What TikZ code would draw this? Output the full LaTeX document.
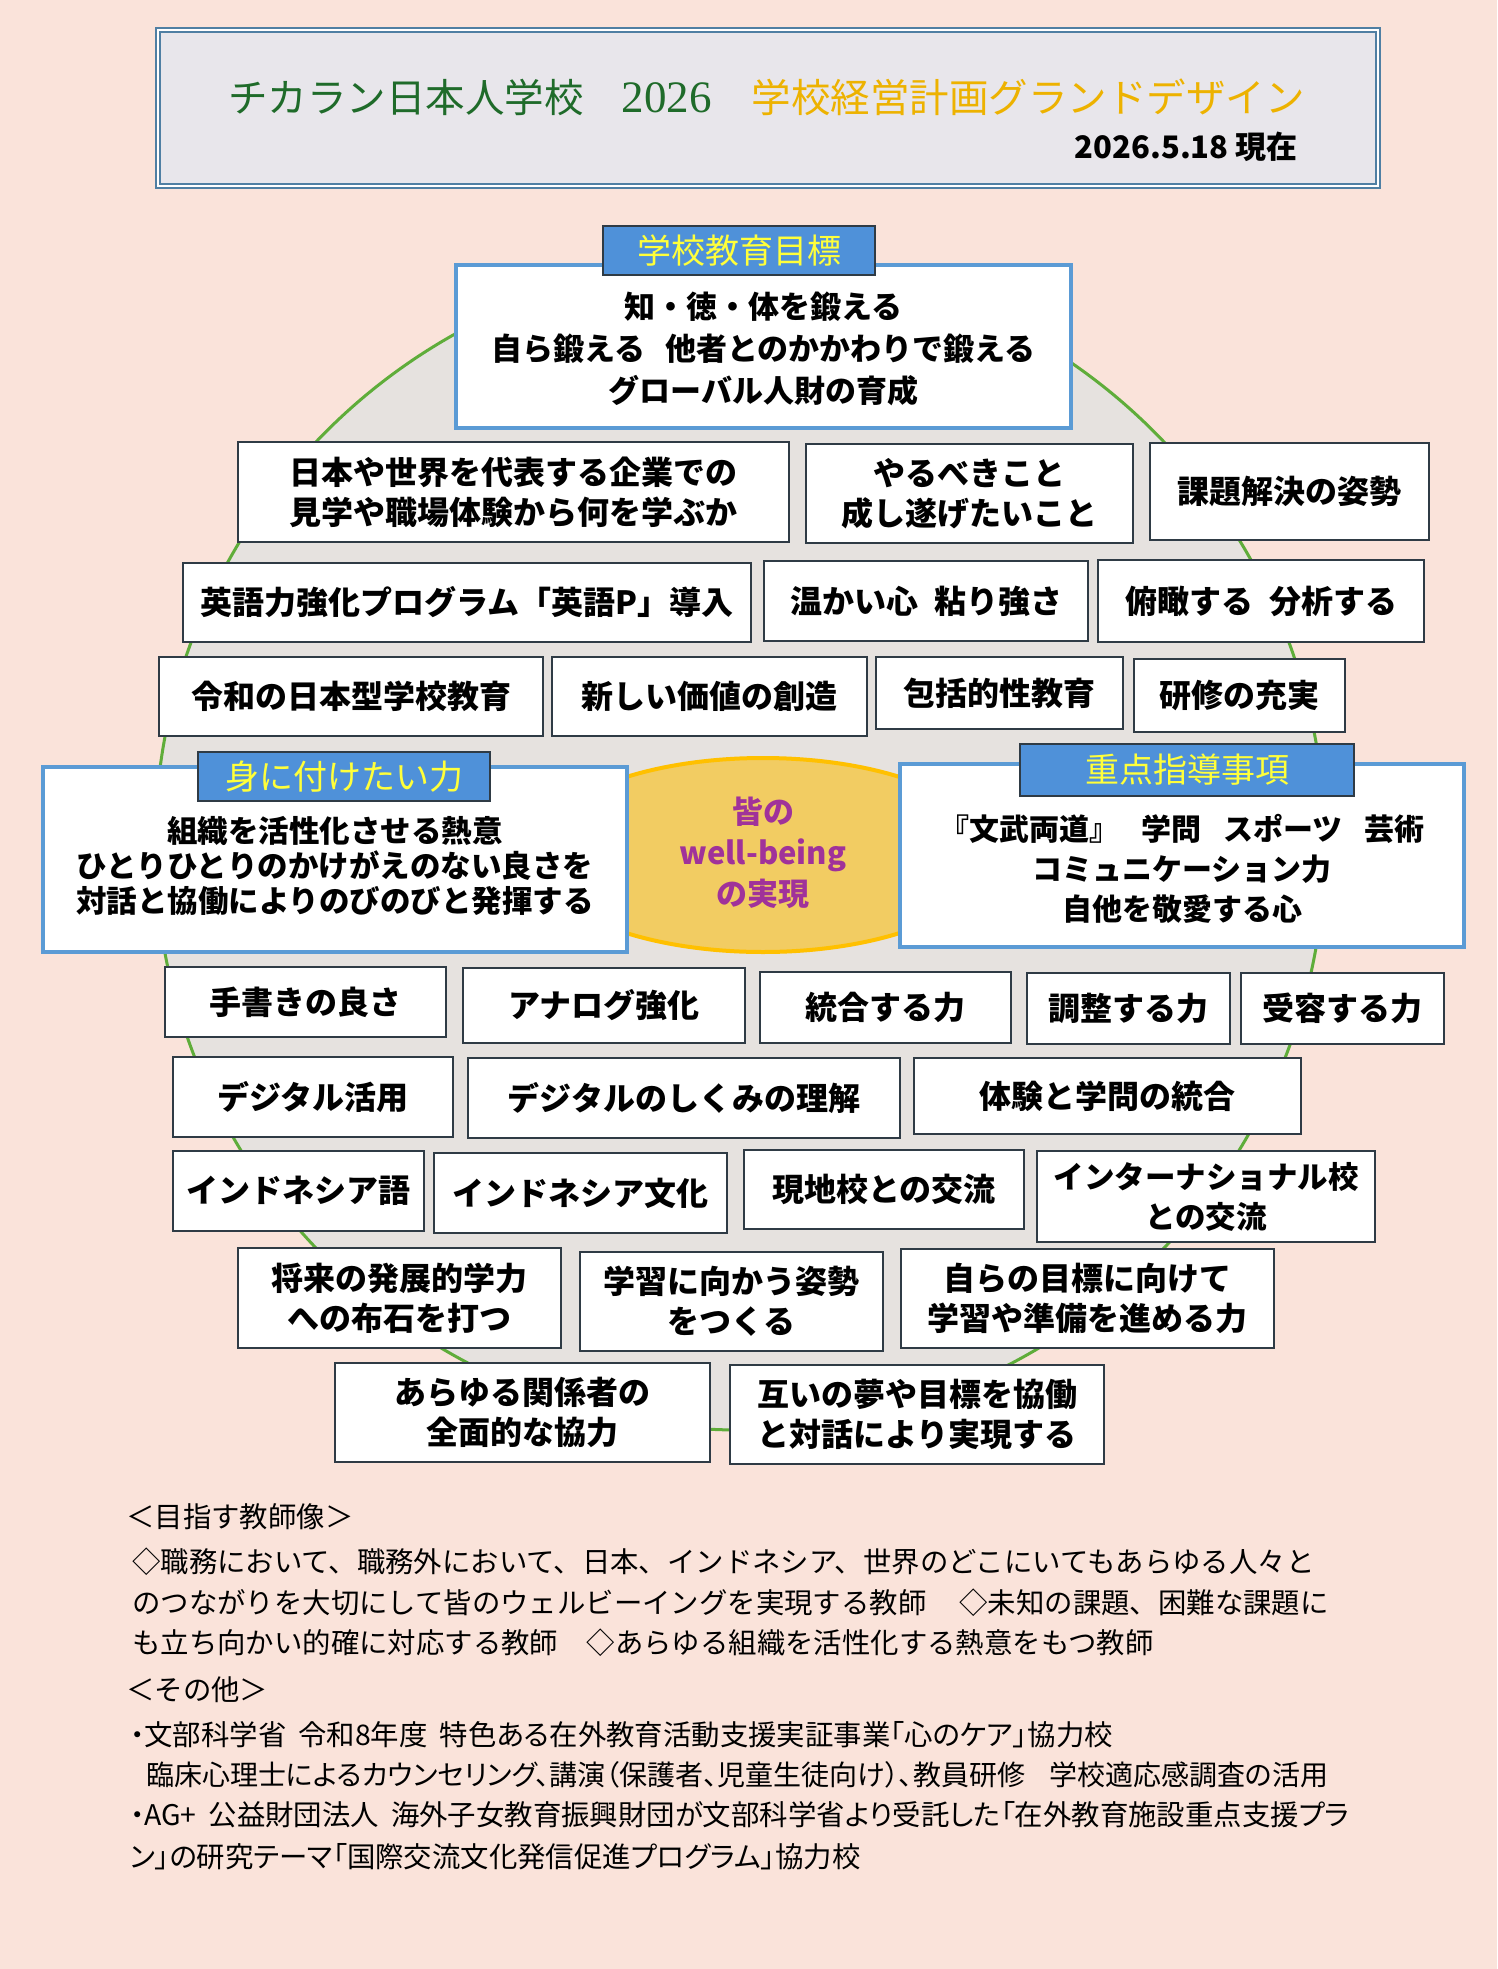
\documentclass[tikz,border=0pt]{standalone}
\usepackage{fontspec}
\usetikzlibrary{shapes.geometric}
\newfontfamily\jp{Noto Sans CJK JP}
\newfontfamily\jpp{Noto Sans CJK JP}[RawFeature=+palt]
\newfontfamily\serifnum{Liberation Serif}
\definecolor{bg}{HTML}{FAE3DA}
\definecolor{circfill}{HTML}{E6E2DF}
\definecolor{circline}{HTML}{5FAD3A}
\definecolor{boxline}{HTML}{2F3B45}
\definecolor{mainline}{HTML}{5B9BD5}
\definecolor{labfill}{HTML}{4F91D9}
\definecolor{labtext}{HTML}{FFFF3A}
\definecolor{titlefill}{HTML}{E8E6EB}
\definecolor{titleline}{HTML}{4F7FA3}
\definecolor{tgreen}{HTML}{1F6B2A}
\definecolor{tgold}{HTML}{EDB200}
\definecolor{wbfill}{HTML}{F2CC62}
\definecolor{wbline}{HTML}{FFC000}
\definecolor{wbtext}{HTML}{A0329A}
\begin{document}
\begin{tikzpicture}[x=1pt,y=-1pt,
  box/.style={draw=boxline,fill=white,line width=1.3pt,inner sep=0pt,align=center,
    font=\jp\bfseries\fontsize{32}{40}\selectfont},
  mainbox/.style={draw=mainline,fill=white,line width=4pt,inner sep=0pt},
  maintext/.style={align=center,inner sep=0pt,font=\jp\bfseries\fontsize{30}{40}\selectfont},
  lab/.style={draw=boxline,fill=labfill,line width=1.2pt,inner sep=0pt,text=labtext,
    font=\jp\fontsize{34}{40}\selectfont},
  btxt/.style={anchor=west,inner sep=0pt,font=\jp\fontsize{28.4}{34}\selectfont},
  ptxt/.style={anchor=west,inner sep=0pt,font=\jpp\fontsize{28.4}{34}\selectfont}]
% background
\fill[bg] (0,0) rectangle (1497,1969);
\useasboundingbox (0,0) rectangle (1497,1969);
% title
\node[draw=titleline,double=white,double distance=2pt,line width=1.6pt,fill=titlefill,
  minimum width=1220pt,minimum height=156pt,inner sep=0pt] (title) at (768,108) {};
\node[anchor=west,inner sep=0pt,font=\jp\fontsize{39.5}{44}\selectfont] (ttext) at (228,97)
  {{\color{tgreen}チカラン日本人学校\hspace{38pt}{\serifnum\fontsize{45}{50}\selectfont 2026}}\hspace{40pt}{\color{tgold}学校経営計画グランドデザイン}};
\node[anchor=east,inner sep=0pt,font=\jp\bfseries\fontsize{31}{36}\selectfont] (date) at (1298,147) {2026.5.18 現在};
% circle
\fill[circfill] (740,845) circle[radius=585pt];
\draw[circline,line width=3pt] (740,845) circle[radius=585pt];
% row 1
\node[box,minimum width=551pt,minimum height=100pt] (r1a) at (513.5,492) {日本や世界を代表する企業での\\見学や職場体験から何を学ぶか};
\node[box,minimum width=327pt,minimum height=99pt] (r1b) at (969.5,493.5) {やるべきこと\\成し遂げたいこと};
\node[box,minimum width=279pt,minimum height=97pt] (r1c) at (1289.5,491.5) {課題解決の姿勢};
% row 2
\node[box,minimum width=568pt,minimum height=79pt] (r2a) at (467,602.5) {英語力強化プログラム「英語P」導入};
\node[box,minimum width=324pt,minimum height=80pt] (r2b) at (926,601) {温かい心\hspace{16pt}粘り強さ};
\node[box,minimum width=326pt,minimum height=82pt] (r2c) at (1261,601) {俯瞰する\hspace{16pt}分析する};
% row 3
\node[box,minimum width=384pt,minimum height=79pt] (r3a) at (351,696.5) {令和の日本型学校教育};
\node[box,minimum width=315pt,minimum height=79pt] (r3b) at (709.5,696.5) {新しい価値の創造};
\node[box,minimum width=247pt,minimum height=72pt] (r3c) at (999.5,693) {包括的性教育};
\node[box,minimum width=211pt,minimum height=73pt] (r3d) at (1239.5,695.5) {研修の充実};
% well-being ellipse
\node[ellipse,fill=wbfill,draw=wbline,line width=4pt,minimum width=460pt,minimum height=194pt,inner sep=0pt] (wb) at (763,855) {};
\node[align=center,inner sep=0pt,text=wbtext,font=\jp\bfseries\fontsize{31}{41}\selectfont] (wbt) at (763,853) {皆の\\well-being\\の実現};
% left main
\node[mainbox,minimum width=584pt,minimum height=185pt] (lbox) at (335,859.5) {};
\node[maintext,font=\jp\bfseries\fontsize{30.5}{35}\selectfont] (ltext) at (335,866) {組織を活性化させる熱意\\ひとりひとりのかけがえのない良さを\\対話と協働によりのびのびと発揮する};
\node[lab,minimum width=292pt,minimum height=49pt] (llab) at (344,776.5) {身に付けたい力};
% right main
\node[mainbox,minimum width=564pt,minimum height=183pt] (rbox) at (1182,855.5) {};
\node[maintext] (rtext) at (1182,869) {『文武両道』\hspace{22pt}学問\hspace{22pt}スポーツ\hspace{22pt}芸術\\コミュニケーション力\\自他を敬愛する心};
\node[lab,minimum width=334pt,minimum height=52pt] (rlab) at (1187,770) {重点指導事項};
% top main
\node[mainbox,minimum width=615pt,minimum height=163pt] (tbox) at (763.5,346.5) {};
\node[maintext,font=\jp\bfseries\fontsize{31}{42}\selectfont] (ttxt) at (763.5,349) {知・徳・体を鍛える\\自ら鍛える\hspace{20pt}他者とのかかわりで鍛える\\グローバル人財の育成};
\node[lab,minimum width=272pt,minimum height=49pt] (tlab) at (739,250.5) {学校教育目標};
% row A
\node[box,minimum width=281pt,minimum height=70pt] (a1) at (305.5,1002) {手書きの良さ};
\node[box,minimum width=282pt,minimum height=75pt] (a2) at (604,1005.5) {アナログ強化};
\node[box,minimum width=251pt,minimum height=71pt] (a3) at (885.5,1007.5) {統合する力};
\node[box,minimum width=203pt,minimum height=71pt] (a4) at (1128.5,1008.5) {調整する力};
\node[box,minimum width=203pt,minimum height=71pt] (a5) at (1342.5,1008.5) {受容する力};
% row B
\node[box,minimum width=280pt,minimum height=80pt] (b1) at (313,1097) {デジタル活用};
\node[box,minimum width=432pt,minimum height=80pt] (b2) at (684,1098) {デジタルのしくみの理解};
\node[box,minimum width=387pt,minimum height=76pt] (b3) at (1107.5,1096) {体験と学問の統合};
% row C
\node[box,minimum width=251pt,minimum height=80pt] (c1) at (298.5,1191) {インドネシア語};
\node[box,minimum width=293pt,minimum height=80pt] (c2) at (580.5,1193) {インドネシア文化};
\node[box,minimum width=280pt,minimum height=79pt] (c3) at (884,1189.5) {現地校との交流};
\node[box,minimum width=338pt,minimum height=91pt,font=\jp\bfseries\fontsize{30.5}{40}\selectfont] (c4) at (1206,1196.5) {インターナショナル校\\との交流};
% row D
\node[box,minimum width=323pt,minimum height=100pt] (d1) at (399.5,1298) {将来の発展的学力\\への布石を打つ};
\node[box,minimum width=303pt,minimum height=99pt] (d2) at (731.5,1301.5) {学習に向かう姿勢\\をつくる};
\node[box,minimum width=373pt,minimum height=99pt] (d3) at (1087.5,1298.5) {自らの目標に向けて\\学習や準備を進める力};
% row E
\node[box,minimum width=375pt,minimum height=99pt] (e1) at (522.5,1412.5) {あらゆる関係者の\\全面的な協力};
\node[box,minimum width=374pt,minimum height=99pt] (e2) at (917,1414.5) {互いの夢や目標を協働\\と対話により実現する};
% bottom text
\node[btxt] (t1) at (126,1517) {＜目指す教師像＞};
\node[btxt] (t2) at (132,1562) {◇職務において、職務外において、日本、インドネシア、世界のどこにいてもあらゆる人々と};
\node[btxt] (t3) at (132,1603) {のつながりを大切にして皆のウェルビーイングを実現する教師\hspace{33pt}◇未知の課題、困難な課題に};
\node[btxt] (t4) at (132,1643) {も立ち向かい的確に対応する教師　◇あらゆる組織を活性化する熱意をもつ教師};
\node[btxt] (t5) at (126,1690) {＜その他＞};
\node[ptxt] (t6) at (130,1735) {・文部科学省\hspace{12pt}令和8年度\hspace{12pt}特色ある在外教育活動支援実証事業「心のケア」協力校};
\node[ptxt,font=\jpp\fontsize{28}{34}\selectfont] (t7) at (146,1775) {臨床心理士によるカウンセリング、講演（保護者、児童生徒向け）、教員研修\hspace{24pt}学校適応感調査の活用};
\node[ptxt] (t8) at (130,1815) {・AG+\hspace{12pt}公益財団法人\hspace{12pt}海外子女教育振興財団が文部科学省より受託した「在外教育施設重点支援プラ};
\node[ptxt] (t9) at (130,1857) {ン」の研究テーマ「国際交流文化発信促進プログラム」協力校};
\end{tikzpicture}
\end{document}
